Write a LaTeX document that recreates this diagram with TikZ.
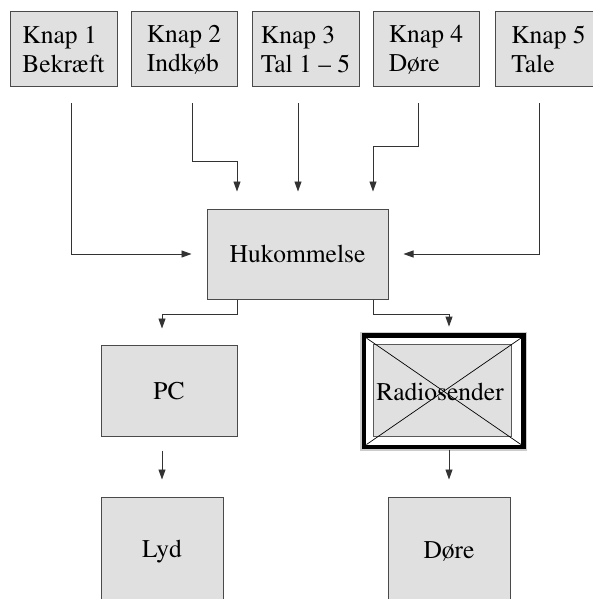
\documentclass[tikz,border=0pt]{standalone}
\usepackage[T1]{fontenc}
\usepackage{times}
\usetikzlibrary{arrows.meta}
\definecolor{boxfill}{HTML}{E0E0E0}
\definecolor{boxline}{HTML}{4A4A4A}
\begin{document}
\begin{tikzpicture}[x=1pt,y=-1pt,
  box/.style={draw=boxline, line width=1pt, fill=boxfill, inner sep=0pt, font=\rmfamily\fontsize{25.5}{29}\selectfont},
  topbox/.style={box, minimum height=75pt, align=left},
  conn/.style={draw=black!80, line width=0.9pt, -{Triangle[length=10pt,width=7pt]}}]
\useasboundingbox (0,0) rectangle (592,599);
\fill[white] (0,0) rectangle (592,599);
% top row
\node[topbox, minimum width=107pt] (k1) at (63.5,49.5) {Knap 1\\Bekræft};
\node[topbox, minimum width=106pt] (k2) at (184,49.5) {Knap 2\\Indkøb};
\node[topbox, minimum width=107pt] (k3) at (305.5,49.5) {Knap 3\\Tal 1 -- 5};
\node[topbox, minimum width=106pt] (k4) at (426,49.5) {Knap 4\\Døre};
\node[topbox, minimum width=107pt] (k5) at (548.5,49.5) {Knap 5\\Tale};
% memory
\node[box, minimum width=181pt, minimum height=90pt] (huk) at (297.5,254) {Hukommelse};
% PC
\node[box, minimum width=136pt, minimum height=91pt] (pc) at (169,390.5) {PC};
% Radiosender
\node[draw=none, minimum width=159pt, minimum height=111pt, inner sep=0pt] (radio) at (443.7,391.3) {};
\draw[gray!40, line width=8pt] (radio.north west) rectangle (radio.south east);
\draw[black, line width=4.5pt, fill=white] (radio.north west) rectangle (radio.south east);
\node[box, draw=gray!70!black, minimum width=138.4pt, minimum height=91.7pt] (radioin) at (442.5,390.8) {};
\draw[black, line width=0.7pt] ([shift={(2.5pt,-2.5pt)}]radio.north west) -- ([shift={(-2.5pt,2.5pt)}]radio.south east);
\draw[black, line width=0.7pt] ([shift={(-2.5pt,-2.5pt)}]radio.north east) -- ([shift={(2.5pt,2.5pt)}]radio.south west);
\node[font=\rmfamily\fontsize{25.5}{29}\selectfont, inner sep=0pt] (radiotxt) at (440,392) {Radiosender};
% bottom
\node[box, minimum width=122pt, minimum height=110pt] (lyd) at (162,552) {Lyd};
\node[box, minimum width=122pt, minimum height=110pt] (dore) at (449,552) {Døre};
% connectors
\draw[conn] ([xshift=7.5pt,yshift=-16pt]k1.south) |- ([xshift=-15pt]huk.west);
\draw[conn] ([xshift=8pt,yshift=-16pt]k2.south) |- ([xshift=-60.5pt,yshift=47pt]huk.north) -- ([xshift=-60.5pt,yshift=17pt]huk.north);
\draw[conn] ([xshift=-7.5pt,yshift=-16pt]k3.south) -- ([xshift=0.5pt,yshift=17pt]huk.north);
\draw[conn] ([xshift=-8pt,yshift=-16pt]k4.south) |- ([xshift=75.5pt,yshift=62pt]huk.north) -- ([xshift=75.5pt,yshift=17pt]huk.north);
\draw[conn] ([xshift=-9.5pt,yshift=-16pt]k5.south) |- ([xshift=15pt]huk.east);
\draw[conn] ([xshift=-60.5pt]huk.south) -- ([xshift=-60.5pt,yshift=-15pt]huk.south) -| ([xshift=-7pt,yshift=16pt]pc.north);
\draw[conn] ([xshift=75.5pt]huk.south) -- ([xshift=75.5pt,yshift=-15pt]huk.south) -| ([xshift=5.3pt,yshift=9pt]radio.north);
\draw[conn] ([xshift=-7pt,yshift=-14pt]pc.south) -- ([yshift=17pt]lyd.north);
\draw[conn] ([xshift=5.3pt,yshift=-2.5pt]radio.south) -- ([yshift=17pt]dore.north);
\end{tikzpicture}
\end{document}
